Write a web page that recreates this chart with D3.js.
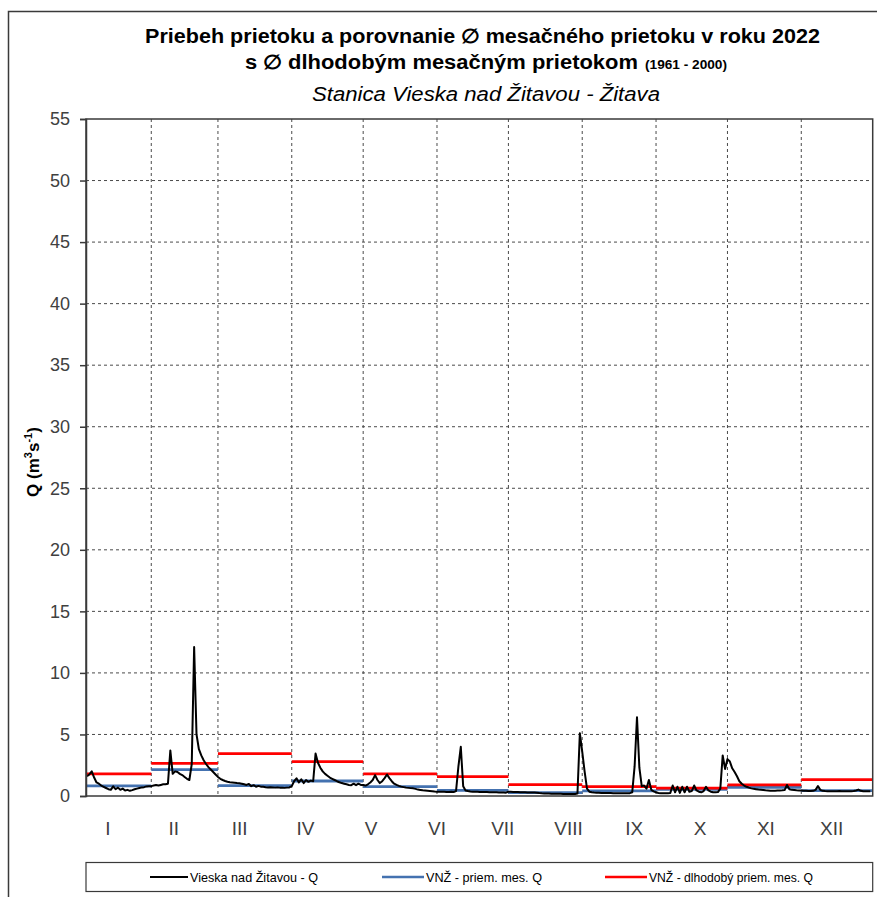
<!DOCTYPE html>
<html>
<head>
<meta charset="utf-8">
<script src="https://cdn.jsdelivr.net/npm/d3@7"></script>
<style>
  html, body { margin: 0; padding: 0; background: #fff; }
  svg { display: block; }
</style>
</head>
<body>
<svg id="chart" width="877" height="897"></svg>
<script>
// ---------------- DATA ----------------
const monthLabels = ["I","II","III","IV","V","VI","VII","VIII","IX","X","XI","XII"];
const yTickValues = [0,5,10,15,20,25,30,35,40,45,50,55];

// 2022 monthly mean discharge (blue) and long-term mean 1961-2000 (red), Jan..Nov
const meanQ2022 = [0.82, 2.15, 0.85, 1.22, 0.76, 0.45, 0.27, 0.41, 0.55, 0.70, 0.43];
const longTermQ = [1.79, 2.65, 3.45, 2.80, 1.79, 1.58, 0.93, 0.76, 0.64, 0.90, 1.33];

// daily discharge Q (m3/s); January starts on Jan 5
const qJan = [1.6,1.75,2.0,1.5,1.1,1.0,0.85,0.75,0.65,0.55,0.5,0.78,0.55,0.68,0.5,0.6,0.45,0.5,0.42,0.48,0.55,0.6,0.65,0.7,0.72,0.78,0.8];
const qFeb = [0.8,0.85,0.9,0.85,0.9,0.95,0.95,1.0,3.7,1.8,2.0,1.95,1.8,1.7,1.55,1.4,1.3,2.6,12.1,5.0,3.8,3.3,2.9,2.6,2.35,2.15,1.95,1.75];
const qMar = [1.55,1.4,1.3,1.22,1.16,1.12,1.1,1.08,1.05,1.03,1.0,0.95,0.9,0.98,0.8,0.88,0.75,0.82,0.76,0.75,0.72,0.7,0.72,0.7,0.68,0.7,0.68,0.67,0.66,0.68,0.7];
const qApr = [0.8,1.2,1.44,1.1,1.35,1.05,1.3,1.15,1.25,1.2,3.45,2.7,2.3,2.0,1.8,1.65,1.5,1.4,1.3,1.2,1.12,1.05,1.0,0.95,0.9,0.88,1.0,0.88,1.0,0.9];
const qMay = [0.9,0.85,0.95,1.1,1.3,1.7,1.3,1.05,1.2,1.45,1.75,1.45,1.2,1.0,0.9,0.82,0.76,0.72,0.68,0.66,0.64,0.62,0.58,0.52,0.49,0.46,0.44,0.42,0.4,0.38,0.36];
const qJun = [0.35,0.35,0.34,0.34,0.33,0.33,0.34,0.33,0.4,2.4,4.0,0.8,0.45,0.4,0.36,0.35,0.34,0.34,0.33,0.33,0.32,0.32,0.31,0.31,0.3,0.3,0.29,0.28,0.28,0.27];
const qJul = [0.35,0.34,0.33,0.32,0.32,0.31,0.3,0.3,0.29,0.29,0.28,0.28,0.27,0.24,0.22,0.21,0.2,0.2,0.19,0.19,0.18,0.18,0.18,0.17,0.17,0.17,0.16,0.16,0.17,0.2,5.1];
const qAug = [3.6,2.0,0.6,0.35,0.3,0.28,0.27,0.26,0.25,0.25,0.24,0.24,0.24,0.23,0.23,0.23,0.22,0.22,0.22,0.22,0.23,0.3,2.4,6.4,2.3,0.8,0.85,0.6,1.3,0.5,0.38];
const qSep = [0.3,0.25,0.22,0.22,0.22,0.22,0.25,0.85,0.3,0.75,0.25,0.75,0.3,0.75,0.35,0.4,0.85,0.45,0.35,0.3,0.4,0.75,0.45,0.35,0.3,0.3,0.32,0.6,3.3,2.2];
const qOct = [3.0,2.8,2.25,1.95,1.6,1.2,1.0,0.85,0.75,0.68,0.62,0.58,0.55,0.52,0.5,0.48,0.46,0.45,0.43,0.43,0.42,0.44,0.45,0.46,0.48,0.9,0.55,0.5,0.48,0.46,0.45];
const qNov = [0.45,0.43,0.42,0.4,0.4,0.42,0.5,0.8,0.5,0.42,0.4,0.39,0.39,0.38,0.38,0.39,0.4,0.39,0.38,0.38,0.38,0.39,0.4,0.45,0.52,0.42,0.39,0.38,0.38,0.38];

const dailyByMonth = [qJan,qFeb,qMar,qApr,qMay,qJun,qJul,qAug,qSep,qOct,qNov];
const firstDayByMonth = [5,1,1,1,1,1,1,1,1,1,1];

const titleLine1 = "Priebeh prietoku a porovnanie \u2205 mesačného prietoku v roku 2022";
const titleLine2a = "s \u2205 dlhodobým  mesačným prietokom";
const titleLine2b = "(1961 - 2000)";
const titleLine3 = "Stanica Vieska nad Žitavou - Žitava";
const legendLabels = ["Vieska nad Žitavou - Q", "VNŽ - priem. mes. Q", "VNŽ - dlhodobý priem. mes. Q"];
const colors = { q: "#000000", mean: "#4472b0", longTerm: "#ff0000" };

// ---------------- BUILD ----------------
const daily = [];
dailyByMonth.forEach((arr, m) => {
  arr.forEach((v, i) => daily.push({ date: new Date(2022, m, firstDayByMonth[m] + i), q: v }));
});

const svg = d3.select("#chart");
const W = 877, H = 897;
const plot = { left: 86, right: 872.7, top: 119, bottom: 796 };

svg.append("rect").attr("width", W).attr("height", H).attr("fill", "#fff");
// outer chart frame
svg.append("rect").attr("x", 8.5).attr("y", 11.5).attr("width", 900).attr("height", 900)
  .attr("fill", "none").attr("stroke", "#3a3a3a").attr("stroke-width", 1.5);

const xStart = new Date(2022, 0, 4, 14), xEnd = new Date(2022, 11, 1);
const x = d3.scaleTime().domain([xStart, xEnd]).range([plot.left, plot.right]);
const y = d3.scaleLinear().domain([0, 55]).range([plot.bottom, plot.top]);

// titles
const sans = "'Liberation Sans', Arial, sans-serif";
const narrow = "'Liberation Sans Narrow', 'Liberation Sans', Arial, sans-serif";
svg.append("text").attr("x", 482.5).attr("y", 43).attr("text-anchor", "middle")
  .attr("font-family", sans).attr("font-weight", "bold").attr("font-size", 20)
  .attr("textLength", 675).attr("lengthAdjust", "spacingAndGlyphs").text(titleLine1);
const t2 = svg.append("text").attr("x", 245).attr("y", 69)
  .attr("font-family", sans).attr("font-weight", "bold").attr("font-size", 20);
t2.append("tspan").attr("textLength", 393).attr("lengthAdjust", "spacingAndGlyphs").text(titleLine2a);
t2.append("tspan").attr("x", 645).attr("font-size", 12).attr("textLength", 82).attr("lengthAdjust", "spacingAndGlyphs").text(titleLine2b);
svg.append("text").attr("x", 486).attr("y", 101).attr("text-anchor", "middle")
  .attr("font-family", sans).attr("font-style", "italic").attr("font-size", 20)
  .attr("textLength", 348).attr("lengthAdjust", "spacingAndGlyphs").text(titleLine3);

// horizontal grid
const g = svg.append("g");
g.selectAll("line.hgrid").data(yTickValues.filter(v => v > 0 && v < 55)).join("line")
  .attr("x1", plot.left).attr("x2", plot.right)
  .attr("y1", d => y(d)).attr("y2", d => y(d))
  .attr("stroke", "#4a4a4a").attr("stroke-width", 1).attr("stroke-dasharray", "3,3");
// vertical grid at month boundaries
const monthStarts = d3.range(1, 11).map(m => new Date(2022, m, 1));
g.selectAll("line.vgrid").data(monthStarts).join("line")
  .attr("x1", d => x(d)).attr("x2", d => x(d))
  .attr("y1", plot.top).attr("y2", plot.bottom)
  .attr("stroke", "#4a4a4a").attr("stroke-width", 1).attr("stroke-dasharray", "3,3");

// monthly step lines
function stepData(vals) {
  return vals.map((v, m) => ({
    x1: x(d3.max([new Date(2022, m, 1), xStart])),
    x2: x(d3.min([new Date(2022, m + 1, 1), xEnd])),
    v
  }));
}
g.selectAll("line.mean").data(stepData(meanQ2022)).join("line")
  .attr("x1", d => d.x1).attr("x2", d => d.x2).attr("y1", d => y(d.v)).attr("y2", d => y(d.v))
  .attr("stroke", colors.mean).attr("stroke-width", 2.8);
g.selectAll("line.lt").data(stepData(longTermQ)).join("line")
  .attr("x1", d => d.x1).attr("x2", d => d.x2).attr("y1", d => y(d.v)).attr("y2", d => y(d.v))
  .attr("stroke", colors.longTerm).attr("stroke-width", 2.8);

// daily line
g.append("path").datum(daily)
  .attr("d", d3.line().x(d => x(d.date)).y(d => y(d.q)))
  .attr("fill", "none").attr("stroke", colors.q).attr("stroke-width", 2).attr("stroke-linejoin", "round");

// plot border
svg.append("rect").attr("x", plot.left).attr("y", plot.top)
  .attr("width", plot.right - plot.left).attr("height", plot.bottom - plot.top)
  .attr("fill", "none").attr("stroke", "#3a3a3a").attr("stroke-width", 1.5);

// y axis
const yAxis = svg.append("g").attr("transform", `translate(${plot.left},0)`)
  .call(d3.axisLeft(y).tickValues(yTickValues).tickSize(6).tickPadding(10));
yAxis.select(".domain").attr("stroke", "#3a3a3a").attr("stroke-width", 1.5);
yAxis.selectAll(".tick line").attr("stroke", "#3a3a3a").attr("stroke-width", 1.5);
yAxis.selectAll(".tick text").attr("font-family", sans).attr("font-size", 18).attr("fill", "#404040");

// y label
const yl = svg.append("text").attr("transform", "translate(39,462) rotate(-90)")
  .attr("text-anchor", "middle").attr("font-family", sans).attr("font-weight", "bold").attr("font-size", 17);
yl.append("tspan").text("Q (m");
yl.append("tspan").attr("font-size", 11).attr("dy", -7).text("3");
yl.append("tspan").attr("dy", 7).text("s");
yl.append("tspan").attr("font-size", 11).attr("dy", -7).text("-1");
yl.append("tspan").attr("dy", 7).text(")");

// month labels
const xm = d3.scalePoint().domain(monthLabels).range([plot.left + 22, plot.right - 41]);
svg.selectAll("text.month").data(monthLabels).join("text")
  .attr("x", d => xm(d)).attr("y", 835).attr("text-anchor", "middle")
  .attr("font-family", narrow).attr("font-size", 19).attr("fill", "#404040").text(d => d);

// legend
svg.append("rect").attr("x", plot.left).attr("y", 862.5).attr("width", plot.right - plot.left).attr("height", 29)
  .attr("fill", "#fff").attr("stroke", "#3a3a3a").attr("stroke-width", 1.2);
const legendItems = [
  { label: legendLabels[0], color: colors.q, x1: 150, x2: 188, w: 1.8, tl: 128 },
  { label: legendLabels[1], color: colors.mean, x1: 382, x2: 424, w: 2.6, tl: 116 },
  { label: legendLabels[2], color: colors.longTerm, x1: 605, x2: 647, w: 2.6, tl: 164 }
];
const lg = svg.selectAll("g.leg").data(legendItems).join("g");
lg.append("line").attr("x1", d => d.x1).attr("x2", d => d.x2).attr("y1", 877).attr("y2", 877)
  .attr("stroke", d => d.color).attr("stroke-width", d => d.w);
lg.append("text").attr("x", d => d.x2 + 2).attr("y", 881.5)
  .attr("font-family", narrow).attr("font-size", 13).attr("fill", "#000")
  .attr("textLength", d => d.tl).attr("lengthAdjust", "spacingAndGlyphs").text(d => d.label);
</script>
</body>
</html>
